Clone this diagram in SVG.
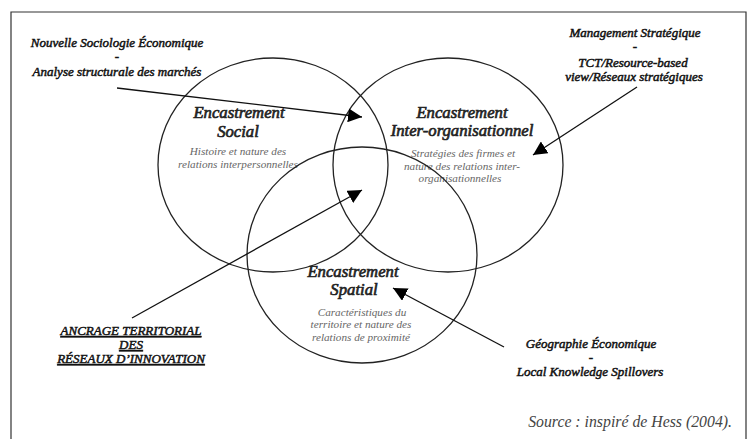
<svg xmlns="http://www.w3.org/2000/svg" width="749" height="439" viewBox="0 0 749 439">
<defs>
<marker id="ah" viewBox="0 0 10 10" refX="10" refY="5" markerWidth="14" markerHeight="14" markerUnits="userSpaceOnUse" orient="auto">
<path d="M0,0 L10,5 L0,10 z" fill="#000"/>
</marker>
<style>
.c{fill:none;stroke:#222;stroke-width:1.3}
.l{fill:none;stroke:#111;stroke-width:1.3}
.ref{font-family:"Liberation Serif","Times New Roman",serif;font-style:italic;font-size:13px;fill:#111;stroke:#111;stroke-width:0.5;text-anchor:middle}
.t{font-family:"Liberation Serif","Times New Roman",serif;font-style:italic;font-size:16.7px;fill:#222;stroke:#222;stroke-width:0.65;text-anchor:middle}
.s{font-family:"Liberation Serif","Times New Roman",serif;font-style:italic;font-size:11.2px;fill:#666;text-anchor:middle}
.src{font-family:"Liberation Serif","Times New Roman",serif;font-style:italic;font-size:15.8px;fill:#444;text-anchor:end}
</style>
</defs>
<rect width="749" height="439" fill="#fff"/>
<path d="M11,445 L11,12 L746,12 L746,445" fill="none" stroke="#333" stroke-width="1.2"/>

<g id="social">
<ellipse class="c" cx="273" cy="165" rx="115" ry="107"/>
<text class="t" x="239" y="118">Encastrement</text>
<text class="t" x="238" y="137">Social</text>
<text class="s" x="238" y="155">Histoire et nature des</text>
<text class="s" x="238" y="168">relations interpersonnelles</text>
</g>

<g id="interorg">
<ellipse class="c" cx="448" cy="165" rx="115" ry="107"/>
<text class="t" x="462" y="118">Encastrement</text>
<text class="t" x="462" y="136">Inter-organisationnel</text>
<text class="s" x="463" y="157">Stratégies des firmes et</text>
<text class="s" x="462" y="170">nature des relations inter-</text>
<text class="s" x="460" y="182">organisationnelles</text>
</g>

<g id="spatial">
<ellipse class="c" cx="362" cy="255" rx="115" ry="108"/>
<text class="t" x="353" y="277">Encastrement</text>
<text class="t" x="354" y="295">Spatial</text>
<text class="s" x="362" y="316">Caractéristiques du</text>
<text class="s" x="361" y="328">territoire et nature des</text>
<text class="s" x="361" y="341">relations de proximité</text>
</g>

<g id="nse">
<text class="ref" x="117" y="47">Nouvelle Sociologie Économique</text>
<text class="ref" x="117" y="61">-</text>
<text class="ref" x="117" y="76">Analyse structurale des marchés</text>
</g>

<g id="management">
<text class="ref" x="635" y="37">Management Stratégique</text>
<text class="ref" x="635" y="51">-</text>
<text class="ref" x="633" y="67">TCT/Resource-based</text>
<text class="ref" x="634" y="81">view/Réseaux stratégiques</text>
</g>

<g id="ancrage">
<text class="ref" x="131" y="335" text-decoration="underline">ANCRAGE TERRITORIAL</text>
<text class="ref" x="131" y="349" text-decoration="underline">DES</text>
<text class="ref" x="131" y="363" text-decoration="underline">RÉSEAUX D’INNOVATION</text>
</g>

<g id="geo">
<text class="ref" x="591" y="348">Géographie Économique</text>
<text class="ref" x="591" y="362">-</text>
<text class="ref" x="590" y="376">Local Knowledge Spillovers</text>
</g>

<g id="source">
<text class="src" x="732" y="427">Source : inspiré de Hess (2004).</text>
</g>

<g id="connectors">
<line class="l" x1="117" y1="88" x2="362" y2="117" marker-end="url(#ah)"/>
<line class="l" x1="637" y1="87" x2="533" y2="155" marker-end="url(#ah)"/>
<line class="l" x1="132" y1="318" x2="362" y2="190" marker-end="url(#ah)"/>
<line class="l" x1="504" y1="347" x2="393" y2="288" marker-end="url(#ah)"/>
</g>
</svg>
